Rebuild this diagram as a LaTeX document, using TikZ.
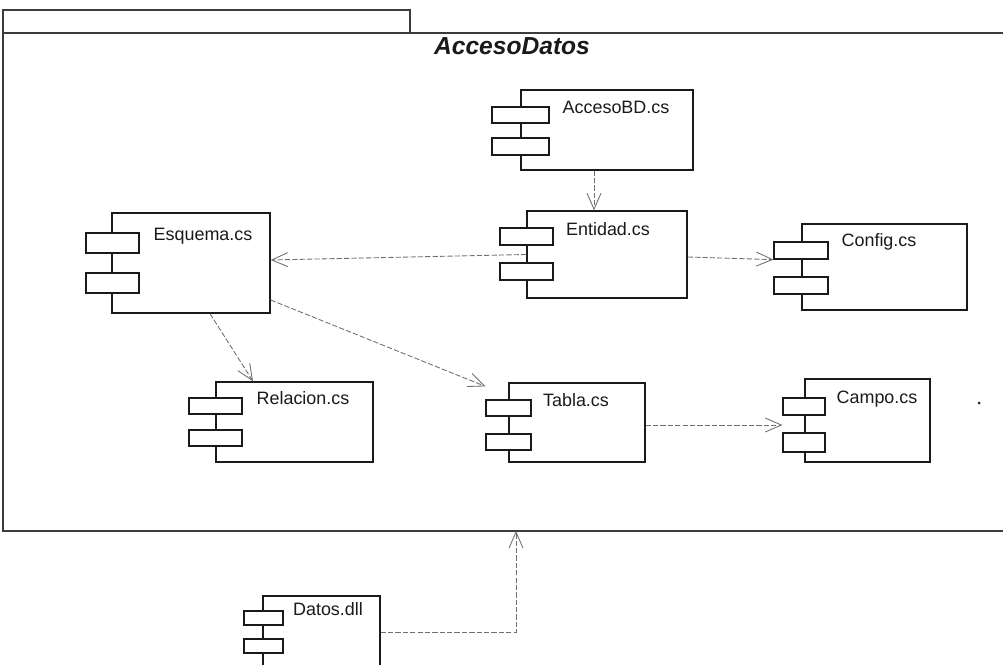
\documentclass[tikz,border=0pt]{standalone}
\usepackage{fontspec}
\setmainfont{Liberation Sans}
\usetikzlibrary{positioning,arrows.meta}
\definecolor{ink}{HTML}{1A1A1A}
\definecolor{depc}{HTML}{707070}
\tikzset{
  comp/.style={rectangle,draw=ink,fill=white,line width=0.8pt,inner sep=0pt},
  port/.style={rectangle,draw=ink,fill=white,line width=0.7pt,inner sep=0pt,
    minimum width=1.06cm,minimum height=0.34cm},
  nm/.style={font=\fontsize{10.2}{12}\selectfont,text=ink,inner sep=0pt},
  ttl/.style={font=\fontsize{14}{16}\selectfont\bfseries\itshape,text=ink,inner sep=0pt},
  pkgline/.style={draw=ink!85,line width=0.6pt},
  dep/.style={-{Straight Barb[length=3.2mm,width=2.8mm,line width=0.5pt]},
    draw=depc,line width=0.5pt,dash pattern=on 3pt off 1.2pt},
}

\begin{document}
\begin{tikzpicture}[x=0.02cm,y=-0.02cm]
  \useasboundingbox (0,0) rectangle (1003,665);
  % package
  \draw[pkgline] (3,33) -- (3,10) -- (410,10) -- (410,33);
  \draw[pkgline] (1013,33) -- (3,33) -- (3,531) -- (1013,531);
  \node[ttl] (ttl) at (512,46) {AccesoDatos};
  \coordinate (pkgs) at (516,531);

  % components
  \node[comp,minimum width=3.44cm,minimum height=1.6cm] (acc) at (607,130) {};
  \node[port,minimum width=1.14cm,minimum height=0.32cm] (acc1) at (520.5,115) {};
  \node[port,minimum width=1.14cm,minimum height=0.34cm] (acc2) at (520.5,146.5) {};
  \node[nm] at (616,107) {AccesoBD.cs};

  \node[comp,minimum width=3.2cm,minimum height=1.74cm] (ent) at (607,254.5) {};
  \node[port] (ent1) at (526.5,236.5) {};
  \node[port] (ent2) at (526.5,271.5) {};
  \node[nm] at (608,229) {Entidad.cs};

  \node[comp,minimum width=3.16cm,minimum height=2cm] (esq) at (191,263) {};
  \node[port,minimum height=0.4cm] (esq1) at (112.5,243) {};
  \node[port,minimum height=0.4cm] (esq2) at (112.5,283) {};
  \node[nm] at (203,236) {Esquema.cs};

  \node[comp,minimum width=3.3cm,minimum height=1.72cm] (cfg) at (884.5,267) {};
  \node[port,minimum width=1.08cm] (cfg1) at (801,250.5) {};
  \node[port,minimum width=1.08cm] (cfg2) at (801,285.5) {};
  \node[nm] at (879,242) {Config.cs};

  \node[comp,minimum width=3.14cm,minimum height=1.6cm] (rel) at (294.5,422) {};
  \node[port,minimum height=0.32cm] (rel1) at (215.5,406) {};
  \node[port,minimum height=0.32cm] (rel2) at (215.5,438) {};
  \node[nm] at (303,398) {Relacion.cs};

  \node[comp,minimum width=2.72cm,minimum height=1.58cm] (tab) at (577,422.5) {};
  \node[port,minimum width=0.9cm,minimum height=0.32cm] (tab1) at (508.5,408) {};
  \node[port,minimum width=0.9cm,minimum height=0.32cm] (tab2) at (508.5,442) {};
  \node[nm] at (576,400) {Tabla.cs};

  \node[comp,minimum width=2.5cm,minimum height=1.66cm] (cmp) at (867.5,420.5) {};
  \node[port,minimum width=0.84cm] (cmp1) at (804,406.5) {};
  \node[port,minimum width=0.84cm,minimum height=0.38cm] (cmp2) at (804,442.5) {};
  \node[nm] at (877,399) {Campo.cs};
  \fill[ink] (979,403) circle (0.03cm);

  \node[comp,minimum width=2.34cm,minimum height=2.08cm] (dat) at (321.5,648) {};
  \node[port,minimum width=0.78cm,minimum height=0.28cm] (dat1) at (263.5,618) {};
  \node[port,minimum width=0.78cm,minimum height=0.28cm] (dat2) at (263.5,646) {};
  \node[nm] at (328,609) {Datos.dll};

  % dependencies
  \draw[dep] ([xshift=-0.26cm]acc.south) -- ([xshift=-0.26cm]ent.north);
  \draw[dep] (ent.west) -- ([yshift=0.06cm]esq.east);
  \draw[dep] ([yshift=-0.05cm]ent.east) -- (cfg1.south west);
  \draw[dep] ([xshift=0.38cm]esq.south) -- ([xshift=-0.83cm]rel.north);
  \draw[dep] ([yshift=-0.74cm]esq.east) -- ([yshift=0.26cm]tab1.north west);
  \draw[dep] ([yshift=-0.05cm]tab.east) -- ([yshift=-0.05cm]tab.east -| cmp1.west);
  \draw[dep] ([yshift=0.32cm]dat.east) -| (pkgs);
\end{tikzpicture}
\end{document}
